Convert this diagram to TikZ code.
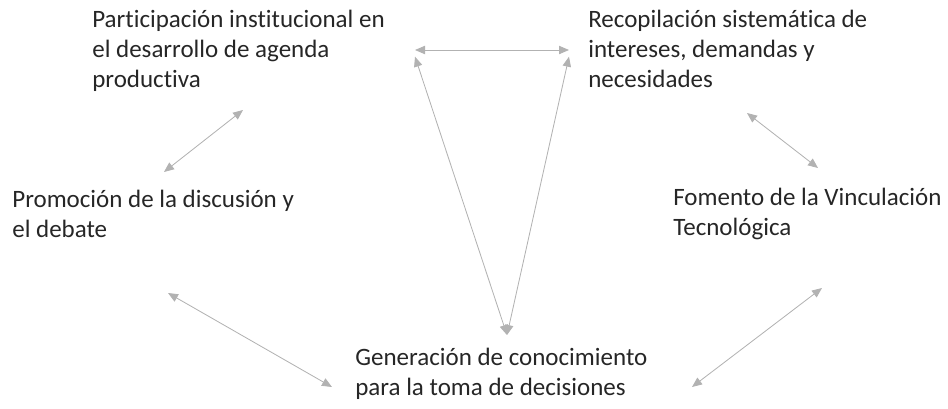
\documentclass[tikz,border=0pt]{standalone}
\usepackage{fontspec}
\setmainfont{Carlito}[Ligatures=CommonOff]
\usetikzlibrary{arrows.meta}
\tikzset{
  label text/.style={
    anchor=north west,
    inner sep=0pt,
    align=left,
    font=\fontsize{15}{18}\selectfont,
    text=black!85,
  },
  link/.style={
    {Triangle[length=6pt,width=5pt]}-{Triangle[length=6pt,width=5pt]},
    draw=gray!60,
    line width=0.5pt,
  },
}

\begin{document}
\begin{tikzpicture}[x=0.6pt,y=-0.6pt]
  \useasboundingbox (0,0) rectangle (948,408);

  \node[label text] (agenda) at (92,10)
    {Participación institucional en\\el desarrollo de agenda\\productiva};
  \node[label text] (intereses) at (588,10)
    {Recopilación sistemática de\\intereses, demandas y\\necesidades};
  \node[label text] (debate) at (12,190)
    {Promoción de la discusión y\\el debate};
  \node[label text] (vinculo) at (673,188)
    {Fomento de la Vinculación\\Tecnológica};
  \node[label text] (conoc) at (355,348)
    {Generación de conocimiento\\para la toma de decisiones};

  % arrow ends
  \coordinate (topL) at (415,50);
  \coordinate (topR) at (569,50);
  \coordinate (apex) at (507,335);
  \coordinate (agS) at (243,110);
  \coordinate (deN) at (164,172);
  \coordinate (inS) at (747,113);
  \coordinate (viN) at (818,168);
  \coordinate (deS) at (168,293);
  \coordinate (coW) at (332,387);
  \coordinate (viS) at (822,288);
  \coordinate (coE) at (692,387);

  \draw[link] (topL) -- (topR);
  \draw[link] (apex) -- ([yshift=-4]topL);
  \draw[link] (apex) -- ([yshift=-4]topR);
  \draw[link] (deN) -- (agS);
  \draw[link] (inS) -- (viN);
  \draw[link] (deS) -- (coW);
  \draw[link] (viS) -- (coE);
\end{tikzpicture}
\end{document}
